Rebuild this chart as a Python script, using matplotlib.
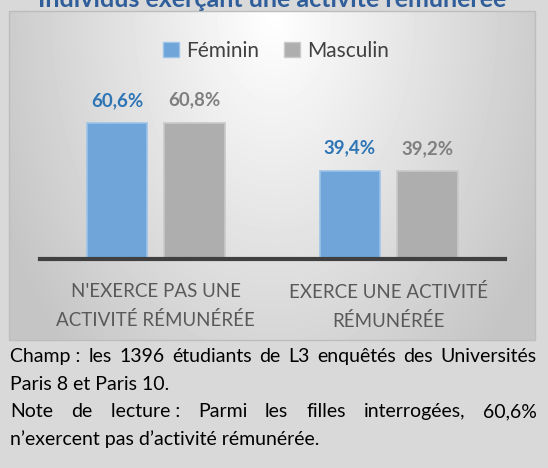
# Individus exerçant une activité rémunérée - bar chart by sex
import numpy as np
import matplotlib.pyplot as plt
from matplotlib.patches import Patch, Rectangle

plt.rcParams['font.family'] = ['Lato', 'DejaVu Sans']

# ================================
# DATA
# ================================
categories = ["N'EXERCE PAS UNE\nACTIVITÉ RÉMUNÉRÉE", "EXERCE UNE ACTIVITÉ\nRÉMUNÉRÉE"]
series_names = ["Féminin", "Masculin"]
feminin = [60.6, 39.4]
masculin = [60.8, 39.2]

title = "Individus exerçant une activité rémunérée"
note_lines = [
    ("Champ : les 1396 étudiants de L3 enquêtés des Universités", True),
    ("Paris 8 et Paris 10.", False),
    ("Note de lecture : Parmi les filles interrogées, 60,6%", True),
    ("n’exercent pas d’activité rémunérée.", False),
]

BLUE = "#6FA5D8"
GREY = "#AEAEAE"

# ================================
# FIGURE (work in pixels from the top-left)
# ================================
W, H = 548, 468
fig = plt.figure(figsize=(W / 100, H / 100), dpi=100)
fig.patch.set_facecolor("#d9d9d9")


def fx(px):
    return px / W


def fy(py):
    return 1 - py / H


# chart box with radial grey gradient
box_l, box_t, box_r, box_b = 9, 11, 535, 340
bg = fig.add_axes([fx(box_l), fy(box_b), (box_r - box_l) / W, (box_b - box_t) / H])
yy, xx = np.mgrid[0:box_b - box_t, 0:box_r - box_l]
r = np.sqrt(((xx - (274 - box_l)) / 331.0) ** 2 + ((yy - 2) / 510.0) ** 2)
shade = np.clip(1 - 0.25 * r, 0.77, 1)
bg.imshow(shade, cmap="gray", vmin=0, vmax=1, aspect="auto", interpolation="bilinear")
bg.set_axis_off()
fig.patches.append(Rectangle((fx(box_l), fy(box_b)), (box_r - box_l) / W, (box_b - box_t) / H,
                             transform=fig.transFigure, fill=False, edgecolor="#bdbdbd", lw=1))

# ================================
# BARS
# ================================
ax = fig.add_axes([fx(39.5), fy(259), (505 - 39.5) / W, (259 - 110) / H])
ax.patch.set_alpha(0)

x = np.arange(len(categories))
width = 0.26
off = 0.166
b1 = ax.bar(x - off, feminin, width, color=BLUE, edgecolor="#9cc3e8", linewidth=1.2, label=series_names[0])
b2 = ax.bar(x + off, masculin, width, color=GREY, edgecolor="#c9c9c9", linewidth=1.2, label=series_names[1])

ax.set_xlim(-0.5, 1.5)
ax.set_ylim(0, 66.4)

for bars, vals, col in [(b1, feminin, "#2E75B6"), (b2, masculin, "#7F7F7F")]:
    for rect, v in zip(bars, vals):
        ax.annotate(f"{v:.1f}%".replace(".", ","), (rect.get_x() + rect.get_width() / 2, v),
                    xytext=(0, 12.2), textcoords="offset points", ha="center", va="baseline",
                    fontsize=13.5, fontweight="bold", color=col)

for s in ["top", "left", "right"]:
    ax.spines[s].set_visible(False)
ax.spines["bottom"].set_linewidth(3)
ax.spines["bottom"].set_color("#404040")
ax.set_yticks([])
ax.set_xticks(x)
ax.set_xticklabels(categories, fontsize=13.5, color="#595959", linespacing=1.75)
ax.tick_params(axis="x", length=0, pad=17)

# legend
handles = [Patch(facecolor=BLUE, edgecolor="#9cc3e8"), Patch(facecolor=GREY, edgecolor="#c9c9c9")]
fig.legend(handles, series_names, loc="center", bbox_to_anchor=(fx(276), fy(51)), ncol=2,
           frameon=False, fontsize=15, labelcolor="#404040", handlelength=0.75, handleheight=0.75,
           handletextpad=0.35, columnspacing=1.2)

# title (cut at the top like the source)
fig.text(fx(272.5), fy(7), title, ha="center", va="baseline", fontsize=18,
         fontweight="bold", color="#2F5E9A")

# ================================
# NOTE UNDER THE CHART (justified)
# ================================
renderer = fig.canvas.get_renderer()
left, right = 10.5, 537
baselines = [362, 389.5, 417, 445]
for (line, justify), yb in zip(note_lines, baselines):
    if not justify:
        fig.text(fx(left), fy(yb), line, ha="left", va="baseline", fontsize=14, color="black")
        continue
    words = line.replace(" : ", "\u00a0: ").split(" ")
    texts = [fig.text(0, 0, w, fontsize=14, color="black", va="baseline") for w in words]
    widths = [t.get_window_extent(renderer).width for t in texts]
    gap = (right - left - sum(widths)) / (len(words) - 1)
    pos = left
    for t, wd in zip(texts, widths):
        t.set_position((fx(pos), fy(yb)))
        pos += wd + gap

fig.savefig("out.png", dpi=100, facecolor=fig.get_facecolor())
